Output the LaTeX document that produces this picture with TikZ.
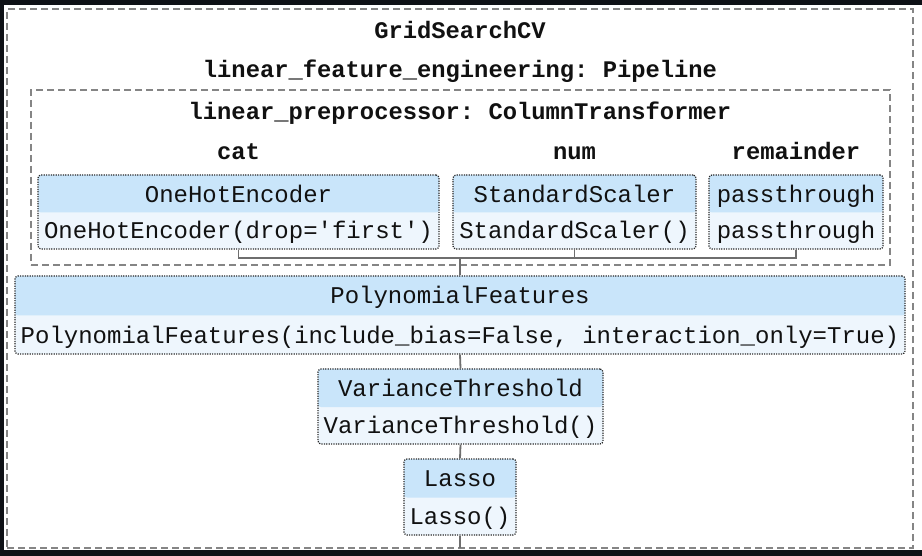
\documentclass[tikz,border=0pt]{standalone}
\usepackage{fontspec}
\setmonofont{Liberation Mono}
\definecolor{darkbg}{HTML}{0E1116}
\definecolor{dashgray}{HTML}{858585}
\definecolor{conngray}{HTML}{6E6E6E}
\definecolor{dotcol}{HTML}{2B2B2B}
\definecolor{headcol}{HTML}{C9E5FA}
\definecolor{bodycol}{HTML}{EEF6FD}
\definecolor{txtcol}{HTML}{111111}
\tikzset{
  dashbox/.style={rectangle, draw=dashgray, line width=1.6pt, dash pattern=on 7pt off 4pt, inner sep=0pt},
  est/.style={rectangle, rounded corners=3pt, draw=dotcol, line width=1.2pt,
    dash pattern=on 1.2pt off 1.2pt, fill=bodycol, inner sep=0pt,
    path picture={\fill[headcol] (path picture bounding box.north west) rectangle ([yshift=-0.5pt]path picture bounding box.east);}},
  lbl/.style={font=\ttfamily\fontsize{24}{28}\selectfont, text=txtcol, inner sep=0pt, anchor=base},
  ttl/.style={lbl, font=\ttfamily\bfseries\fontsize{23.8}{28}\selectfont},
  conn/.style={draw=conngray, line width=1.8pt}
}
\begin{document}
\begin{tikzpicture}[x=1pt,y=-1pt]
\useasboundingbox (0,0) rectangle (922,556);
\fill[darkbg] (0,0) rectangle (922,556);
\fill[white] (4,5) rectangle (922,550);

% containers
\node[dashbox, minimum width=906pt, minimum height=539pt] (grid) at (460,278.5) {};
\node[dashbox, minimum width=859pt, minimum height=175pt] (ct) at (460.5,177.5) {};

% titles
\node[ttl] (tGrid) at (460,38.5) {GridSearchCV};
\node[ttl] (tPipe) at (460,78) {linear\_feature\_engineering: Pipeline};
\node[ttl] (tCT) at (460,120) {linear\_preprocessor: ColumnTransformer};
\node[ttl] (tCat) at (238.5,160) {cat};
\node[ttl] (tNum) at (574.5,160) {num};
\node[ttl] (tRem) at (796,160) {remainder};

% estimators
\node[est, minimum width=401pt, minimum height=74pt] (ohe) at (238.5,212) {};
\node[est, minimum width=243pt, minimum height=74pt] (ss) at (574.5,212) {};
\node[est, minimum width=174pt, minimum height=74pt] (pt) at (796,212) {};
\node[est, minimum width=890pt, minimum height=78pt] (poly) at (460,315) {};
\node[est, minimum width=285pt, minimum height=75pt] (vt) at (460.5,406.5) {};
\node[est, minimum width=112pt, minimum height=76pt] (lasso) at (460,497) {};

\node[lbl] (oheH) at ([yshift=-28pt]ohe.north) {OneHotEncoder};
\node[lbl] (oheB) at ([yshift=11pt]ohe.south) {OneHotEncoder(drop='first')};
\node[lbl] (ssH) at ([yshift=-28pt]ss.north) {StandardScaler};
\node[lbl] (ssB) at ([yshift=11pt]ss.south) {StandardScaler()};
\node[lbl] (ptH) at ([yshift=-28pt]pt.north) {passthrough};
\node[lbl] (ptB) at ([yshift=11pt]pt.south) {passthrough};
\node[lbl] (polyH) at ([yshift=-28.5pt]poly.north) {PolynomialFeatures};
\node[lbl] (polyB) at ([yshift=11.5pt]poly.south) {PolynomialFeatures(include\_bias=False, interaction\_only=True)};
\node[lbl] (vtH) at ([yshift=-28pt]vt.north) {VarianceThreshold};
\node[lbl] (vtB) at ([yshift=11pt]vt.south) {VarianceThreshold()};
\node[lbl] (lassoH) at ([yshift=-28.5pt]lasso.north) {Lasso};
\node[lbl] (lassoB) at ([yshift=11pt]lasso.south) {Lasso()};

% connectors
\coordinate (j) at (460,258);
\coordinate (gb) at (460,548);
\draw[conn] (ohe.south) |- (pt.south |- j) -- (pt.south);
\draw[conn] (ss.south) -- (ss.south |- j);
\draw[conn] (j) -- (poly.north);
\draw[conn] (poly.south) -- (vt.north);
\draw[conn] (vt.south) -- (lasso.north);
\draw[conn] (lasso.south) -- (gb);
\end{tikzpicture}
\end{document}
